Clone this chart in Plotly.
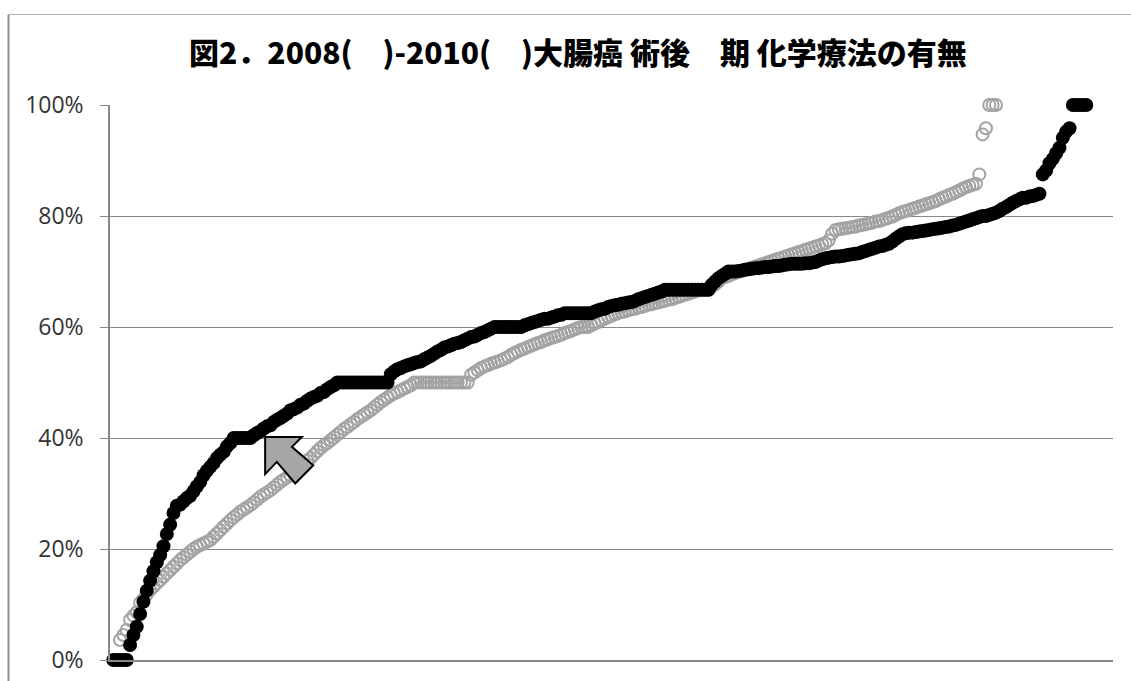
import plotly.graph_objects as go

title_text = "図2．2008(　)-2010(　)大腸癌 術後　期 化学療法の有無"
y_ticks = [0, 20, 40, 60, 80, 100]

# black series (ranked rates, %), rank starts at 1
black_start = 1
black_values = [
    0, 0, 0, 0, 0, 2.7, 4.5, 6.0, 8.3, 10.5,
    12.5, 14.3, 16.0, 17.6, 18.9, 20.5, 22.7, 24.4, 26.5, 27.8,
    28.0, 28.6, 29.2, 29.6, 30.4, 31.3, 32.1, 33.3, 34.1, 34.8,
    35.5, 36.4, 37.0, 37.5, 38.5, 39.1, 40, 40, 40, 40,
    40, 40, 40.5, 40.9, 41.2, 41.7, 42.1, 42.3, 42.9, 43.3,
    43.6, 44.0, 44.4, 45.0, 45.2, 45.5, 46.0, 46.2, 46.7, 47.1,
    47.4, 47.6, 48.1, 48.3, 48.8, 49.2, 49.5, 50, 50, 50,
    50, 50, 50, 50, 50, 50, 50, 50, 50, 50,
    50, 50, 50, 51.5, 52.0, 52.4, 52.6, 52.9, 53.1, 53.3,
    53.5, 53.7, 53.8, 54.2, 54.5, 54.8, 55.2, 55.6, 55.9, 56.3,
    56.5, 56.7, 57.0, 57.1, 57.3, 57.6, 57.9, 58.2, 58.3, 58.6,
    58.9, 59.1, 59.4, 59.7, 60, 60, 60, 60, 60, 60,
    60, 60, 60, 60.3, 60.5, 60.7, 60.9, 61.1, 61.3, 61.5,
    61.5, 61.7, 61.9, 62.1, 62.2, 62.5, 62.5, 62.5, 62.5, 62.5,
    62.5, 62.5, 62.5, 62.5, 62.8, 63.0, 63.2, 63.3, 63.6, 63.8,
    63.9, 64.0, 64.2, 64.3, 64.4, 64.5, 64.7, 65.0, 65.2, 65.4,
    65.6, 65.8, 66.0, 66.2, 66.4, 66.7, 66.7, 66.7, 66.7, 66.7,
    66.7, 66.7, 66.7, 66.7, 66.7, 66.7, 66.7, 66.7, 66.7, 67.6,
    68.2, 68.8, 69.2, 69.6, 70.0, 70.0, 70.0, 70.1, 70.2, 70.3,
    70.4, 70.5, 70.6, 70.6, 70.7, 70.8, 70.8, 70.9, 71.0, 71.0,
    71.1, 71.2, 71.3, 71.4, 71.4, 71.4, 71.4, 71.5, 71.5, 71.6,
    71.7, 72.0, 72.2, 72.4, 72.5, 72.6, 72.7, 72.7, 72.8, 72.9,
    73.0, 73.1, 73.2, 73.3, 73.5, 73.7, 73.9, 74.1, 74.3, 74.5,
    74.6, 74.8, 75.0, 75.4, 75.9, 76.3, 76.7, 76.9, 77.0, 77.0,
    77.1, 77.2, 77.3, 77.4, 77.5, 77.6, 77.7, 77.8, 77.9, 78.0,
    78.1, 78.3, 78.4, 78.6, 78.8, 79.0, 79.2, 79.4, 79.6, 79.8,
    80.0, 80.0, 80.2, 80.4, 80.6, 80.9, 81.3, 81.6, 82.0, 82.4,
    82.7, 83.0, 83.3, 83.3, 83.5, 83.6, 83.8, 84.0, 87.5, 88.2,
    89.5, 90.3, 91.3, 92.3, 94.1, 95.2, 95.8, 100, 100, 100,
    100, 100,
]

# gray series (ranked rates, %), rank starts at 3
gray_start = 3
gray_values = [
    3.6, 4.5, 5.4, 7.2, 8.0, 8.6, 10.3, 11.0, 11.8, 12.6,
    13.2, 13.8, 14.4, 15.0, 15.6, 16.2, 16.8, 17.4, 18.0, 18.5,
    19.0, 19.5, 20.0, 20.4, 20.7, 21.0, 21.3, 21.6, 22.2, 22.8,
    23.4, 24.0, 24.6, 25.2, 25.7, 26.2, 26.7, 27.1, 27.5, 27.9,
    28.4, 28.9, 29.4, 29.8, 30.2, 30.6, 31.1, 31.6, 32.1, 32.5,
    32.9, 33.3, 33.8, 34.3, 34.8, 35.3, 35.9, 36.4, 37.0, 37.6,
    38.2, 38.7, 39.1, 39.6, 40.1, 40.6, 41.1, 41.6, 42.0, 42.5,
    42.9, 43.4, 43.8, 44.2, 44.6, 45.0, 45.5, 46.0, 46.5, 46.9,
    47.3, 47.7, 48.0, 48.3, 48.6, 48.9, 49.2, 49.5, 50, 50,
    50, 50, 50, 50, 50, 50, 50, 50, 50, 50,
    50, 50, 50, 50, 50, 51.4, 51.8, 52.2, 52.6, 52.9,
    53.1, 53.4, 53.6, 53.8, 54.0, 54.3, 54.6, 55.0, 55.3, 55.6,
    55.9, 56.1, 56.4, 56.6, 56.9, 57.1, 57.3, 57.6, 57.8, 58.0,
    58.2, 58.4, 58.6, 58.9, 59.1, 59.3, 59.6, 59.8, 60.0, 60.0,
    60.0, 60.3, 60.6, 60.9, 61.2, 61.5, 61.8, 62.0, 62.3, 62.5,
    62.7, 62.8, 63.0, 63.2, 63.3, 63.5, 63.6, 63.8, 64.0, 64.1,
    64.3, 64.4, 64.6, 64.7, 64.9, 65.0, 65.2, 65.4, 65.6, 65.8,
    66.0, 66.2, 66.4, 66.7, 66.7, 66.7, 66.7, 67.2, 67.7, 68.2,
    68.8, 69.0, 69.2, 69.5, 69.7, 69.9, 70.1, 70.3, 70.5, 70.7,
    70.9, 71.1, 71.3, 71.5, 71.7, 71.9, 72.1, 72.3, 72.5, 72.7,
    72.9, 73.1, 73.3, 73.5, 73.7, 73.9, 74.1, 74.3, 74.5, 74.7,
    74.9, 75.1, 75.6, 76.8, 77.5, 77.6, 77.7, 77.8, 77.9, 78.0,
    78.1, 78.3, 78.4, 78.5, 78.7, 78.8, 79.0, 79.1, 79.3, 79.5,
    79.7, 79.9, 80.2, 80.5, 80.7, 80.9, 81.1, 81.3, 81.5, 81.7,
    81.9, 82.1, 82.3, 82.5, 82.7, 83.0, 83.3, 83.5, 83.8, 84.0,
    84.3, 84.6, 84.9, 85.2, 85.4, 85.6, 85.8, 87.5, 94.7, 95.8,
    100, 100, 100,
]

# block-arrow annotation outline in data units (rank, %)
arrow_x = [46.4, 57.4, 54.4, 60.8, 55.4, 49.9, 46.4]
arrow_y = [40.2, 40.2, 38.4, 35.1, 31.8, 35.7, 33.5]

black_x = list(range(black_start, black_start + len(black_values)))
gray_x = list(range(gray_start, gray_start + len(gray_values)))

fig = go.Figure()
fig.add_trace(go.Scatter(
    x=gray_x, y=gray_values, mode="markers", cliponaxis=False,
    marker=dict(size=12, color="rgba(0,0,0,0)", line=dict(color="#a3a3a3", width=2)),
    showlegend=False, hoverinfo="skip"))
fig.add_trace(go.Scatter(
    x=black_x, y=black_values, mode="markers", cliponaxis=False,
    marker=dict(size=14, color="black", line=dict(width=0)),
    showlegend=False, hoverinfo="skip"))

path = "M " + " L ".join(f"{x},{y}" for x, y in zip(arrow_x, arrow_y)) + " Z"
fig.add_shape(type="path", path=path, xref="x", yref="y",
              fillcolor="#a6a6a6", line=dict(color="black", width=2), layer="above")

# chart-area border (left and top edges visible)
fig.add_shape(type="line", xref="paper", yref="paper", x0=-0.1012, x1=-0.1012, y0=-0.1, y1=1.1631,
              line=dict(color="#8c8c8c", width=2))
fig.add_shape(type="line", xref="paper", yref="paper", x0=-0.1012, x1=1.05, y0=1.1631, y1=1.1631,
              line=dict(color="#b3b3b3", width=1))

fig.update_layout(
    width=1131, height=681,
    margin=dict(l=110, r=18, t=105, b=21, autoexpand=False),
    paper_bgcolor="white", plot_bgcolor="white",
    title=dict(text=title_text, x=0.511, xanchor="center", y=0.921, yanchor="middle",
               font=dict(family="Noto Sans CJK JP", size=30, color="black", weight=900)),
    xaxis=dict(range=[0, 300], showgrid=False, zeroline=False, showticklabels=False, ticks="",
               showline=True, linecolor="#898989", linewidth=1.5, automargin=False),
    yaxis=dict(range=[0, 100], tickvals=y_ticks, ticktext=[f"{v}%" for v in y_ticks],
               showgrid=True, gridcolor="#898989", gridwidth=1.3, zeroline=False,
               showline=True, linecolor="#898989", linewidth=1.5, automargin=False,
               ticks="outside", ticklen=8, tickcolor="#898989", tickwidth=1.3,
               ticklabelstandoff=12,
               tickfont=dict(family="Open Sans", size=23, color="#333333")),
)

fig.write_html("out.html")
